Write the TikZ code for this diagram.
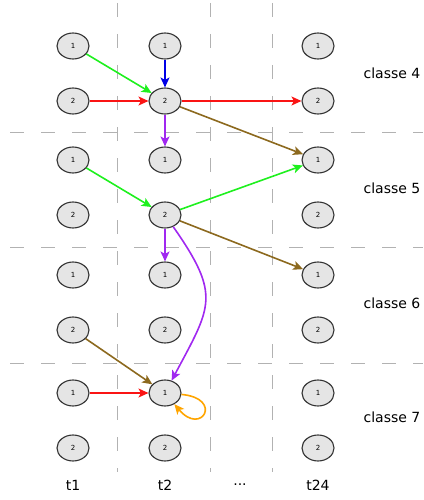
\documentclass[tikz,border=0pt]{standalone}
\usepackage{fontspec}
\setmainfont{DejaVu Sans}
\usetikzlibrary{arrows.meta,shapes.geometric}

\definecolor{vert}{RGB}{30,240,30}
\definecolor{rouge}{RGB}{250,20,20}
\definecolor{bleu}{RGB}{0,0,230}
\definecolor{violet}{RGB}{160,40,240}
\definecolor{brun}{RGB}{140,105,30}
\definecolor{orangeb}{RGB}{255,165,0}

\begin{document}
\begin{tikzpicture}[x=1pt,y=1pt,
    etat/.style={ellipse,draw=black!80,fill=black!10,line width=1.1pt,
      minimum width=32pt,minimum height=26pt,inner sep=0pt,
      font=\fontsize{7}{7}\selectfont},
    fleche/.style={line width=1.6pt,-{Stealth[length=10pt,width=9pt,inset=2.5pt]}},
    sep/.style={draw=black!30,dash pattern=on 14pt off 17pt,line width=0.8pt},
    titre/.style={font=\fontsize{14}{14}\selectfont}]
  \useasboundingbox (0,0) rectangle (423,-500);

  % separateurs
  \foreach \x in {117,210,272}
    \draw[sep] (\x,-3) -- (\x,-472);
  \foreach \y in {132,247,363}
    \draw[sep] ([xshift=10pt]0,-\y) -- (423,-\y);

  % etats
  \foreach \col/\x in {t1/73,t2/165,t24/318}
    \foreach \c/\y in {4/46,5/160,6/275,7/393} {
      \node[etat] (\col-c\c-1) at (\x,-\y) {1};
      \node[etat] (\col-c\c-2) at (\x,-\y-55) {2};
    }

  % textes
  \node[titre] (lt1) at (73,-485) {t1};
  \node[titre] (lt2) at (165,-485) {t2};
  \node[titre] (ldots) at (240,-485) {...};
  \node[titre] (lt24) at (318,-485) {t24};

  \node[titre] (lc4) at (392,-73.5) {classe 4};
  \node[titre] (lc5) at (392,-188) {classe 5};
  \node[titre] (lc6) at (392,-303.5) {classe 6};
  \node[titre] (lc7) at (392,-417) {classe 7};

  % transitions
  \draw[fleche,vert] (t1-c4-1) -- (t2-c4-2);
  \draw[fleche,bleu] (t2-c4-1) -- (t2-c4-2);
  \draw[fleche,rouge] (t1-c4-2) -- (t2-c4-2);
  \draw[fleche,rouge] (t2-c4-2) -- (t24-c4-2);
  \draw[fleche,violet] (t2-c4-2) -- (t2-c5-1);
  \draw[fleche,brun] (t2-c4-2) -- (t24-c5-1);

  \draw[fleche,vert] (t1-c5-1) -- (t2-c5-2);
  \draw[fleche,vert] (t2-c5-2) -- (t24-c5-1);
  \draw[fleche,violet] (t2-c5-2) -- (t2-c6-1);
  \draw[fleche,brun] (t2-c5-2) -- (t24-c6-1);
  \draw[fleche,violet] (t2-c5-2) to[out=-55,in=62,looseness=1.4] (t2-c7-1);

  \draw[fleche,brun] (t1-c6-2) -- (t2-c7-1);
  \draw[fleche,rouge] (t1-c7-1) -- (t2-c7-1);
  \draw[fleche,orangeb] (t2-c7-1) to[out=-5,in=-50,looseness=9] (t2-c7-1);
\end{tikzpicture}
\end{document}
